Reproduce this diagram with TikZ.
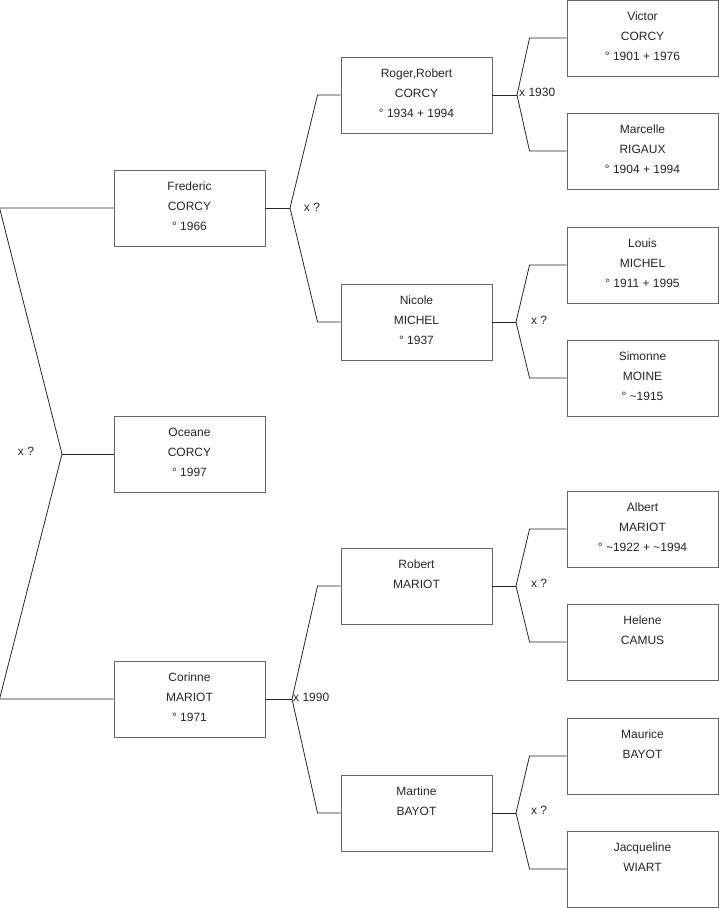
\documentclass[tikz,border=0pt]{standalone}
\usepackage{fontspec}
\setmainfont{Liberation Sans}
\usepackage{tikz}
\usetikzlibrary{positioning}

\begin{document}
\begin{tikzpicture}[
  x=1pt, y=-1pt,
  font=\fontsize{12}{20}\selectfont,
  box/.style={draw=black!60, line width=0.9pt, minimum width=151pt, minimum height=76pt, inner sep=0pt},
  txt/.style={anchor=north, yshift=-12pt, align=center, inner sep=0pt, text=black!85},
  link/.style={draw=black!85, line width=0.8pt},
  union/.style={inner sep=1pt, text=black!85}
]
  \useasboundingbox (0,0) rectangle (719,908);

  % generation 1
  \node[box] (oceane) at (189.5,454) {};
  \node[txt] (oceanet) at (oceane.north) {Oceane\\CORCY\\° 1997};

  % generation 2
  \node[box] (fred) at (189.5,208) {};
  \node[txt] (fredt) at (fred.north) {Frederic\\CORCY\\° 1966};
  \node[box] (corinne) at (189.5,699) {};
  \node[txt] (corinnet) at (corinne.north) {Corinne\\MARIOT\\° 1971};

  % generation 3
  \node[box] (roger) at (416.5,95) {};
  \node[txt] (rogert) at (roger.north) {Roger,Robert\\CORCY\\° 1934 + 1994};
  \node[box] (nicole) at (416.5,322) {};
  \node[txt] (nicolet) at (nicole.north) {Nicole\\MICHEL\\° 1937};
  \node[box] (robert) at (416.5,586) {};
  \node[txt] (robertt) at (robert.north) {Robert\\MARIOT};
  \node[box] (martine) at (416.5,813) {};
  \node[txt] (martinet) at (martine.north) {Martine\\BAYOT};

  % generation 4
  \node[box] (victor) at (642.5,38) {};
  \node[txt] (victort) at (victor.north) {Victor\\CORCY\\° 1901 + 1976};
  \node[box] (marcelle) at (642.5,151) {};
  \node[txt] (marcellet) at (marcelle.north) {Marcelle\\RIGAUX\\° 1904 + 1994};
  \node[box] (louis) at (642.5,265) {};
  \node[txt] (louist) at (louis.north) {Louis\\MICHEL\\° 1911 + 1995};
  \node[box] (simonne) at (642.5,378) {};
  \node[txt] (simonnet) at (simonne.north) {Simonne\\MOINE\\° \textasciitilde1915};
  \node[box] (albert) at (642.5,529) {};
  \node[txt] (albertt) at (albert.north) {Albert\\MARIOT\\° \textasciitilde1922 + \textasciitilde1994};
  \node[box] (helene) at (642.5,642) {};
  \node[txt] (helenet) at (helene.north) {Helene\\CAMUS};
  \node[box] (maurice) at (642.5,756) {};
  \node[txt] (mauricet) at (maurice.north) {Maurice\\BAYOT};
  \node[box] (jacqueline) at (642.5,869) {};
  \node[txt] (jacquelinet) at (jacqueline.north) {Jacqueline\\WIART};

  % unions
  \coordinate (u0) at (62,454);
  \coordinate (u1) at (290,208);
  \coordinate (u2) at (292,699);
  \coordinate (u3) at (517,95);
  \coordinate (u4) at (516,322);
  \coordinate (u5) at (516,586);
  \coordinate (u6) at (516,813);

  \node[union] (u0l) at (26,451) {x ?};
  \node[union] (u1l) at (312,207) {x ?};
  \node[union, anchor=west] (u2l) at (292,697) {x 1990};
  \node[union, anchor=west] (u3l) at (518,92) {x 1930};
  \node[union] (u4l) at (539,320) {x ?};
  \node[union] (u5l) at (539,583) {x ?};
  \node[union] (u6l) at (539,810) {x ?};

  % links
  \draw[link] (oceane.west) -- (u0);
  \draw[link] (u0) -- ([xshift=-114pt]fred.west) -- (fred.west);
  \draw[link] (u0) -- ([xshift=-114pt]corinne.west) -- (corinne.west);

  \draw[link] (fred.east) -- (u1);
  \draw[link] (u1) -- ([xshift=-23pt]roger.west) -- (roger.west);
  \draw[link] (u1) -- ([xshift=-23pt]nicole.west) -- (nicole.west);

  \draw[link] (corinne.east) -- (u2);
  \draw[link] (u2) -- ([xshift=-23pt]robert.west) -- (robert.west);
  \draw[link] (u2) -- ([xshift=-23pt]martine.west) -- (martine.west);

  \draw[link] (roger.east) -- (u3);
  \draw[link] (u3) -- ([xshift=-37pt]victor.west) -- (victor.west);
  \draw[link] (u3) -- ([xshift=-37pt]marcelle.west) -- (marcelle.west);

  \draw[link] (nicole.east) -- (u4);
  \draw[link] (u4) -- ([xshift=-37pt]louis.west) -- (louis.west);
  \draw[link] (u4) -- ([xshift=-37pt]simonne.west) -- (simonne.west);

  \draw[link] (robert.east) -- (u5);
  \draw[link] (u5) -- ([xshift=-37pt]albert.west) -- (albert.west);
  \draw[link] (u5) -- ([xshift=-37pt]helene.west) -- (helene.west);

  \draw[link] (martine.east) -- (u6);
  \draw[link] (u6) -- ([xshift=-37pt]maurice.west) -- (maurice.west);
  \draw[link] (u6) -- ([xshift=-37pt]jacqueline.west) -- (jacqueline.west);
\end{tikzpicture}
\end{document}
